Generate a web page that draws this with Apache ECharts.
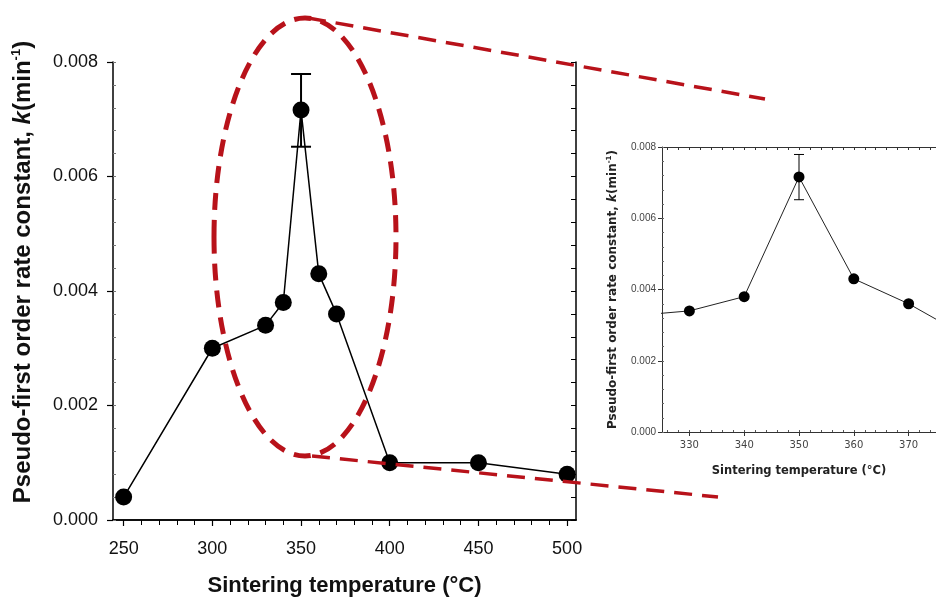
<!DOCTYPE html>
<html>
<head>
<meta charset="utf-8">
<script src="https://cdn.jsdelivr.net/npm/echarts@6/dist/echarts.min.js"></script>
<style>html,body{margin:0;padding:0;background:#fff}#c{width:936px;height:602px}</style>
</head>
<body>
<div id="c"></div>
<script>
// ---- data ----
const temps   = [250, 300, 330, 340, 350, 360, 370, 400, 450, 500];
const kValues = [0.0004, 0.0030, 0.0034, 0.0038, 0.00716, 0.0043, 0.0036, 0.0010, 0.0010, 0.0008];
const errTemps = [350];
const errLow   = [0.00652];
const errHigh  = [0.00779];

// ---- tick labels ----
const mainXTicks  = [250, 300, 350, 400, 450, 500];
const mainXMinor  = [250, 260, 270, 280, 290, 300, 310, 320, 330, 340, 350, 360, 370, 380, 390, 400, 410, 420, 430, 440, 450, 460, 470, 480, 490, 500];
const yTicks      = [0, 0.002, 0.004, 0.006, 0.008];
const yMinor      = [0, 0.0004, 0.0008, 0.0012, 0.0016, 0.002, 0.0024, 0.0028, 0.0032, 0.0036, 0.004, 0.0044, 0.0048, 0.0052, 0.0056, 0.006, 0.0064, 0.0068, 0.0072, 0.0076, 0.008];
const insetXTicks = [330, 340, 350, 360, 370];
const insetXMinor = [326, 328, 330, 332, 334, 336, 338, 340, 342, 344, 346, 348, 350, 352, 354, 356, 358, 360, 362, 364, 366, 368, 370, 372, 374];

const FONT = 'Liberation Sans, Arial, sans-serif';
const FONT2 = 'DejaVu Sans, sans-serif';
const lineData = temps.map((t, i) => [t, kValues[i]]);
const errData = errTemps.map((t, i) => [t, errLow[i], errHigh[i]]);

function errRender(capHalf, lw) {
  return function (params, api) {
    const x = api.value(0);
    const lo = api.coord([x, api.value(1)]);
    const hi = api.coord([x, api.value(2)]);
    const st = { stroke: '#000', lineWidth: lw };
    return {
      type: 'group',
      children: [
        { type: 'line', shape: { x1: lo[0], y1: lo[1], x2: hi[0], y2: hi[1] }, style: st },
        { type: 'line', shape: { x1: lo[0] - capHalf, y1: lo[1], x2: lo[0] + capHalf, y2: lo[1] }, style: st },
        { type: 'line', shape: { x1: hi[0] - capHalf, y1: hi[1], x2: hi[0] + capHalf, y2: hi[1] }, style: st }
      ]
    };
  };
}

const noSplit = { show: false };
const mainLine = { lineStyle: { color: '#000', width: 1.5 } };
const insetLine = { lineStyle: { color: '#333', width: 1 } };

const option = {
  backgroundColor: '#fff',
  animation: false,
  grid: [
    { left: 113, top: 62, width: 463, height: 460 },
    { left: 662, top: 147, width: 283, height: 285 }
  ],
  xAxis: [
    { // 0 main bottom
      type: 'value', gridIndex: 0, position: 'bottom', min: 244, max: 505,
      axisLine: mainLine,
      axisTick: { customValues: mainXTicks, length: 6, lineStyle: { color: '#000', width: 1.2 } },
      axisLabel: { customValues: mainXTicks, fontSize: 18, fontFamily: FONT, color: '#111', margin: 20 },
      splitLine: noSplit,
      name: 'Sintering temperature (°C)', nameLocation: 'middle', nameGap: 55,
      nameTextStyle: { fontSize: 22, fontWeight: 'bold', fontFamily: FONT, color: '#111' }
    },
    { // 1 main bottom minor
      type: 'value', gridIndex: 0, position: 'bottom', min: 244, max: 505,
      axisLine: { show: false },
      axisTick: { customValues: mainXMinor, length: 4, lineStyle: { color: '#000', width: 1 } },
      axisLabel: { show: false }, splitLine: noSplit
    },
    { // 2 main top
      type: 'value', gridIndex: 0, position: 'top', min: 244, max: 505,
      axisLine: mainLine,
      axisTick: { customValues: mainXMinor, inside: true, length: 5, lineStyle: { color: '#000', width: 1 } },
      axisLabel: { show: false }, splitLine: noSplit
    },
    { // 3 inset bottom
      type: 'value', gridIndex: 1, position: 'bottom', min: 325, max: 375,
      axisLine: insetLine,
      axisTick: { customValues: insetXTicks, length: 4, lineStyle: { color: '#333', width: 1 } },
      axisLabel: { customValues: insetXTicks, fontSize: 10, fontFamily: FONT2, color: '#444', margin: 8 },
      splitLine: noSplit,
      name: 'Sintering temperature (°C)', nameLocation: 'middle', nameGap: 33,
      nameTextStyle: { fontSize: 11.5, fontWeight: 'bold', fontFamily: FONT2, color: '#222' }
    },
    { // 4 inset bottom minor
      type: 'value', gridIndex: 1, position: 'bottom', min: 325, max: 375,
      axisLine: { show: false },
      axisTick: { customValues: insetXMinor, inside: true, length: 2, lineStyle: { color: '#555', width: 1 } },
      axisLabel: { show: false }, splitLine: noSplit
    },
    { // 5 inset top
      type: 'value', gridIndex: 1, position: 'top', min: 325, max: 375,
      axisLine: insetLine,
      axisTick: { customValues: insetXMinor, inside: true, length: 3, lineStyle: { color: '#333', width: 1 } },
      axisLabel: { show: false }, splitLine: noSplit
    }
  ],
  yAxis: [
    { // 0 main left
      type: 'value', gridIndex: 0, position: 'left', min: 0, max: 0.008, interval: 0.002,
      axisLine: mainLine,
      axisTick: { length: 6, lineStyle: { color: '#000', width: 1.2 } },
      axisLabel: { fontSize: 18, fontFamily: FONT, color: '#111', margin: 15, formatter: v => v.toFixed(3) },
      splitLine: noSplit,
      name: '{b|Pseudo-first order rate constant, }{i|k}{b|(min}{s|-1}{b|)}',
      nameLocation: 'middle', nameGap: 77,
      nameTextStyle: {
        padding: [0, 0, 0, 38],
        rich: {
          b: { fontSize: 24, fontWeight: 'bold', fontFamily: FONT, color: '#111', lineHeight: 26 },
          i: { fontSize: 24, fontWeight: 'bold', fontStyle: 'italic', fontFamily: FONT, color: '#111', lineHeight: 26 },
          s: { fontSize: 13, fontWeight: 'bold', fontFamily: FONT, color: '#111', lineHeight: 14, verticalAlign: 'top' }
        }
      }
    },
    { // 1 main left minor inside
      type: 'value', gridIndex: 0, position: 'left', min: 0, max: 0.008,
      axisLine: { show: false },
      axisTick: { customValues: yMinor, inside: true, length: 3, lineStyle: { color: '#777', width: 1 } },
      axisLabel: { show: false }, splitLine: noSplit
    },
    { // 2 main right
      type: 'value', gridIndex: 0, position: 'right', min: 0, max: 0.008,
      axisLine: mainLine,
      axisTick: { customValues: yMinor, inside: true, length: 5, lineStyle: { color: '#000', width: 1 } },
      axisLabel: { show: false }, splitLine: noSplit
    },
    { // 3 inset left
      type: 'value', gridIndex: 1, position: 'left', min: 0, max: 0.008, interval: 0.002,
      axisLine: insetLine,
      axisTick: { length: 4, lineStyle: { color: '#333', width: 1 } },
      axisLabel: { fontSize: 10, fontFamily: FONT, color: '#444', margin: 6, formatter: v => v.toFixed(3) },
      splitLine: noSplit,
      name: '{b|Pseudo-first order rate constant, }{i|k}{b|(min}{s|-1}{b|)}',
      nameLocation: 'middle', nameGap: 42,
      nameTextStyle: {
        rich: {
          b: { fontSize: 12, fontWeight: 'bold', fontFamily: FONT2, color: '#222', lineHeight: 14 },
          i: { fontSize: 12, fontWeight: 'bold', fontStyle: 'italic', fontFamily: FONT2, color: '#222', lineHeight: 14 },
          s: { fontSize: 7, fontWeight: 'bold', fontFamily: FONT2, color: '#222', lineHeight: 8, verticalAlign: 'top' }
        }
      }
    },
    { // 4 inset left minor inside
      type: 'value', gridIndex: 1, position: 'left', min: 0, max: 0.008,
      axisLine: { show: false },
      axisTick: { customValues: yMinor, inside: true, length: 2, lineStyle: { color: '#666', width: 1 } },
      axisLabel: { show: false }, splitLine: noSplit
    }
  ],
  series: [
    {
      type: 'line', xAxisIndex: 0, yAxisIndex: 0, data: lineData,
      symbol: 'circle', symbolSize: 17,
      itemStyle: { color: '#000' }, lineStyle: { color: '#000', width: 1.5 }, z: 3
    },
    {
      type: 'custom', xAxisIndex: 0, yAxisIndex: 0, data: errData,
      renderItem: errRender(10, 2), z: 4
    },
    {
      type: 'line', xAxisIndex: 3, yAxisIndex: 3, data: lineData,
      symbol: 'circle', symbolSize: 11, clip: true,
      itemStyle: { color: '#000' }, lineStyle: { color: '#222', width: 1 }, z: 3
    },
    {
      type: 'custom', xAxisIndex: 3, yAxisIndex: 3, data: errData,
      renderItem: errRender(5, 1), z: 4
    }
  ],
  graphic: [
    { type: 'ellipse', z: 100, silent: true,
      shape: { cx: 305, cy: 237, rx: 91, ry: 219 },
      style: { fill: 'none', stroke: '#b8121a', lineWidth: 5, lineDash: [17, 10] } },
    { type: 'line', z: 100, silent: true,
      shape: { x1: 308, y1: 18, x2: 765, y2: 99 },
      style: { stroke: '#b8121a', lineWidth: 3.5, lineDash: [18, 10] } },
    { type: 'line', z: 100, silent: true,
      shape: { x1: 312, y1: 456, x2: 718, y2: 497 },
      style: { stroke: '#b8121a', lineWidth: 3.5, lineDash: [18, 10] } }
  ]
};

const chart = echarts.init(document.getElementById('c'), null, { renderer: 'canvas' });
chart.setOption(option);
</script>
</body>
</html>
